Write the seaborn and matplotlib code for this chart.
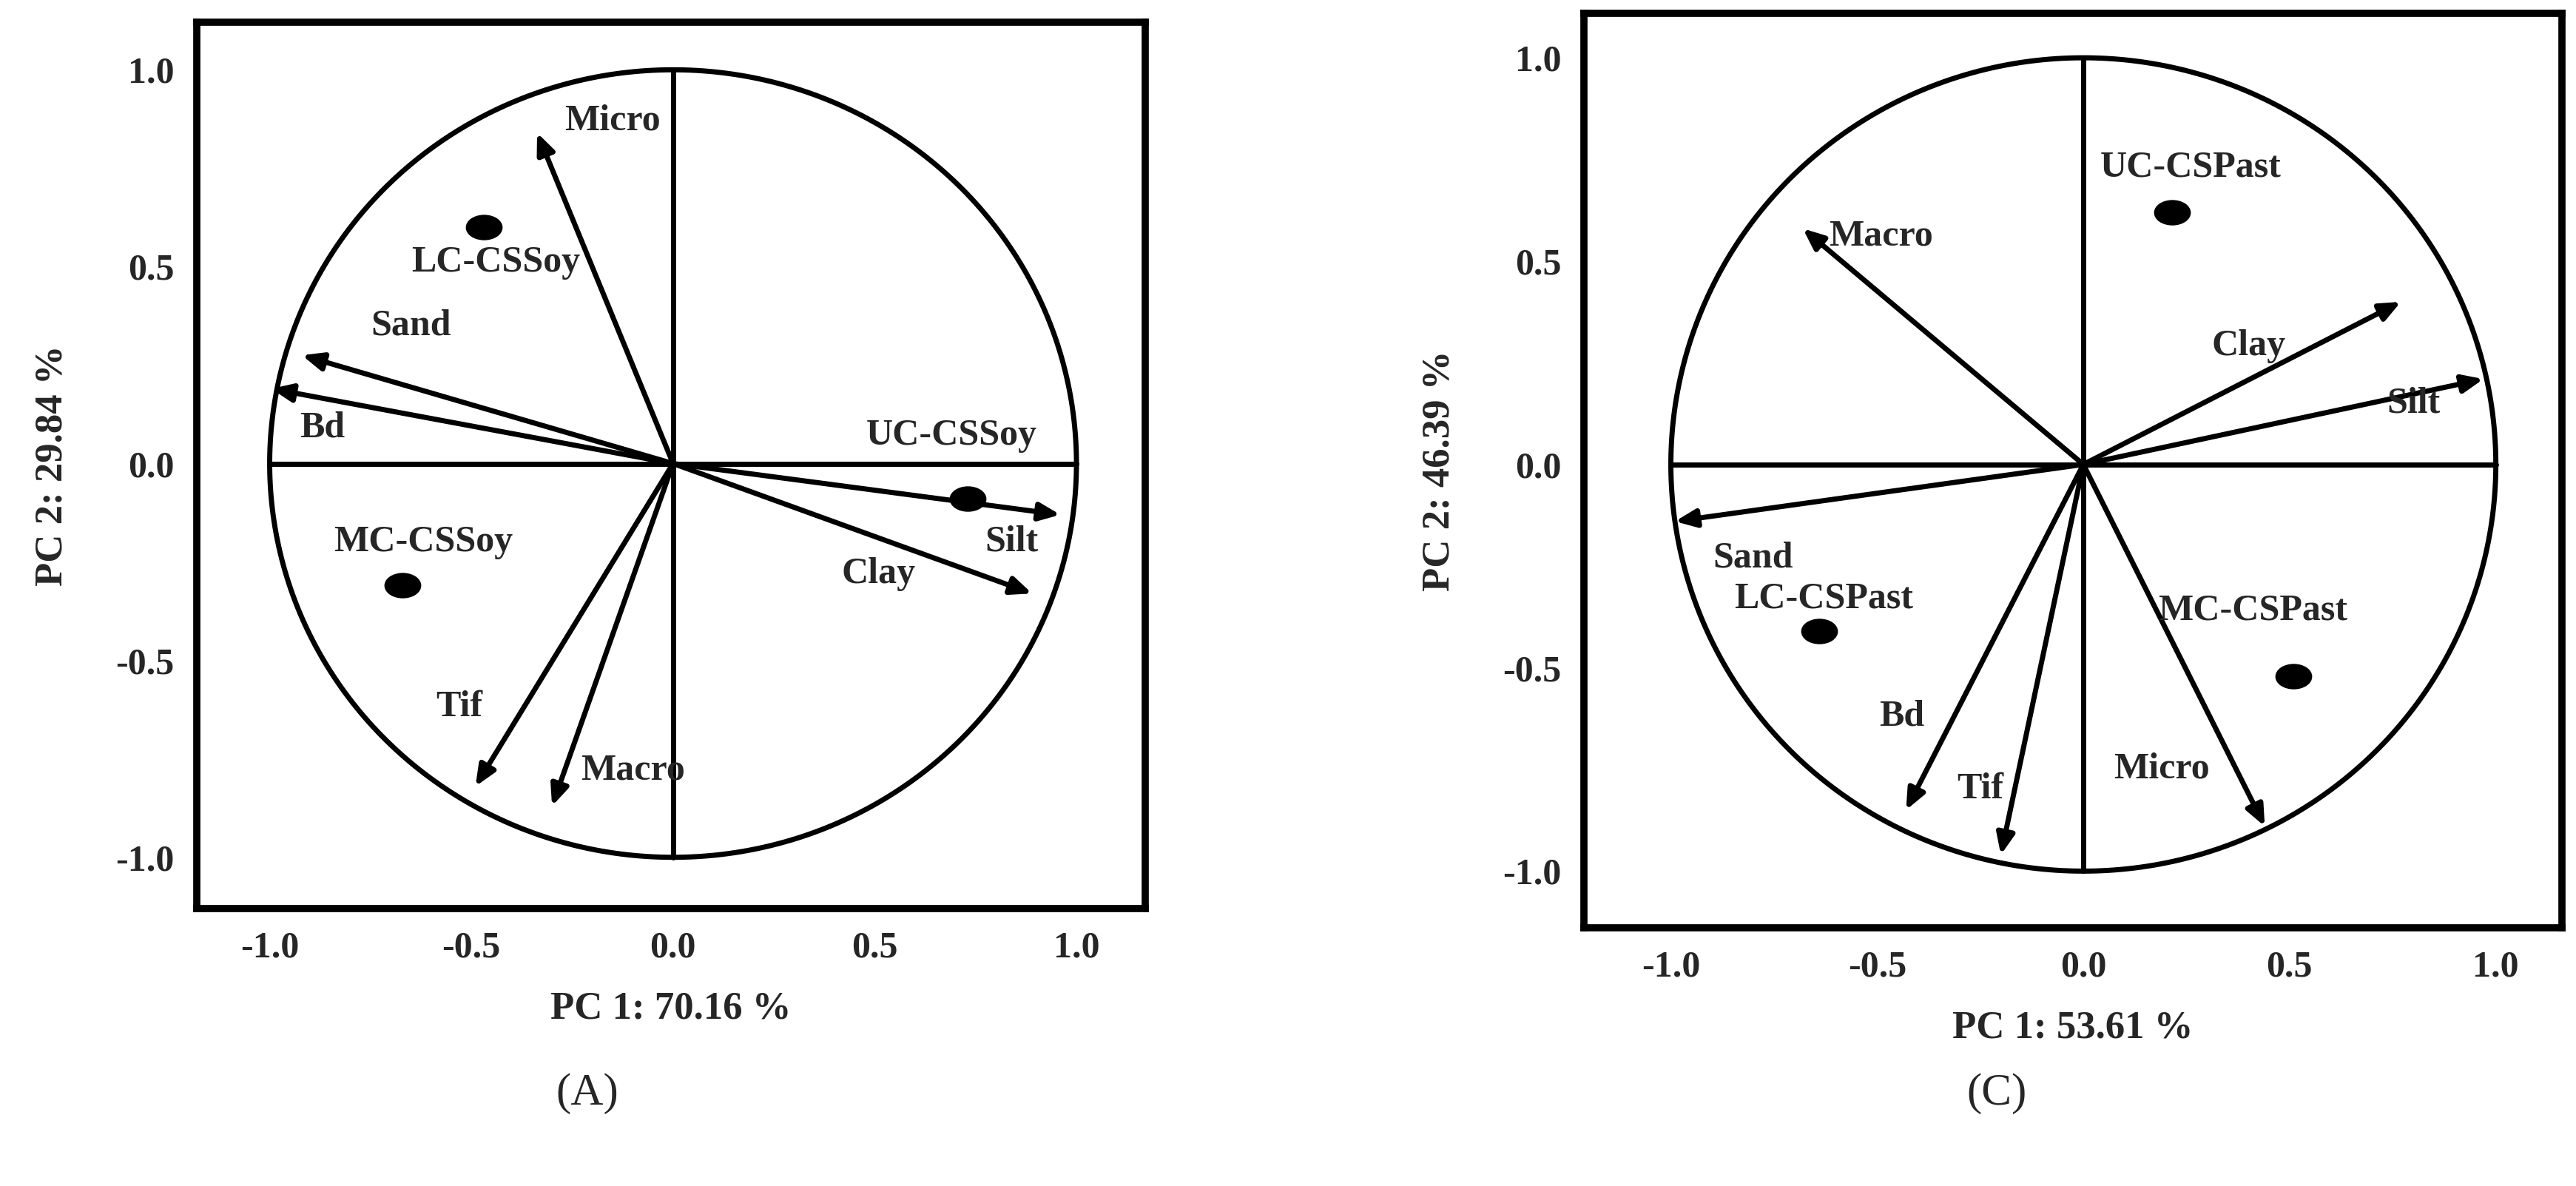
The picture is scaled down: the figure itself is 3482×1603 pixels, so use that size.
import numpy as np
import pandas as pd
import matplotlib
matplotlib.use("Agg")
import matplotlib.pyplot as plt
from matplotlib.path import Path
from matplotlib.transforms import Affine2D
import seaborn as sns

sns.set_theme(style="white")
plt.rcParams['font.family'] = ['Liberation Serif', 'DejaVu Serif']

# Panel A
a_vars = ["Micro", "Sand", "Bd", "Silt", "Clay", "Tif", "Macro"]
a_vx = [-0.337, -0.92, -0.996, 0.96, 0.89, -0.49, -0.30]
a_vy = [0.84, 0.275, 0.19, -0.13, -0.33, -0.82, -0.87]
a_lx = [-0.15, -0.65, -0.87, 0.84, 0.51, -0.53, -0.10]
a_ly = [0.87, 0.35, 0.09, -0.20, -0.28, -0.62, -0.78]
a_pts = ["LC-CSSoy", "UC-CSSoy", "MC-CSSoy"]
a_px = [-0.47, 0.73, -0.67]
a_py = [0.60, -0.09, -0.31]
a_plx = [-0.44, 0.69, -0.62]
a_ply = [0.51, 0.07, -0.20]

# Panel C
c_vars = ["Macro", "Clay", "Silt", "Sand", "Bd", "Tif", "Micro"]
c_vx = [-0.68, 0.77, 0.97, -0.99, -0.43, -0.20, 0.44]
c_vy = [0.58, 0.40, 0.21, -0.14, -0.85, -0.96, -0.89]
c_lx = [-0.49, 0.40, 0.80, -0.80, -0.44, -0.25, 0.19]
c_ly = [0.56, 0.29, 0.15, -0.23, -0.62, -0.80, -0.75]
c_pts = ["UC-CSPast", "LC-CSPast", "MC-CSPast"]
c_px = [0.215, -0.64, 0.51]
c_py = [0.62, -0.41, -0.52]
c_plx = [0.26, -0.63, 0.41]
c_ply = [0.73, -0.33, -0.36]

ticks = [-1.0, -0.5, 0.0, 0.5, 1.0]
tick_labels = ["-1.0", "-0.5", "0.0", "0.5", "1.0"]

ell = Path.unit_circle().transformed(Affine2D().scale(1.5, 1.0))

fig = plt.figure(figsize=(34.82, 16.03), dpi=100)
axA = fig.add_axes([0.0765, 0.234, 0.368, 0.747])
axC = fig.add_axes([0.615, 0.2175, 0.3795, 0.7715])

fs = 36
def panel(ax, vars_, vx, vy, lx, ly, pts, px, py, plx, ply, xlim, ylim, xl, yl):
    th = np.linspace(0, 2 * np.pi, 400)
    ax.plot(np.cos(th), np.sin(th), color="black", lw=5)
    ax.plot([-1, 1], [0, 0], color="black", lw=5)
    ax.plot([0, 0], [-1, 1], color="black", lw=5)
    for x, y in zip(vx, vy):
        ax.annotate("", xy=(x, y), xytext=(0, 0),
                    arrowprops=dict(arrowstyle="-|>,head_length=1.4,head_width=0.6",
                                    color="black", lw=5, shrinkA=0, shrinkB=0))
    for n, x, y in zip(vars_, lx, ly):
        ax.text(x, y, n, fontsize=fs, fontweight="bold", ha="center", va="center")
    df = pd.DataFrame({"x": px, "y": py, "n": pts})
    sns.scatterplot(data=df, x="x", y="y", ax=ax, marker=ell, s=1100,
                    color="black", edgecolor="black", legend=False, zorder=5)
    for n, x, y in zip(pts, plx, ply):
        ax.text(x, y, n, fontsize=fs, fontweight="bold", ha="center", va="center")
    ax.set_xlim(*xlim)
    ax.set_ylim(*ylim)
    ax.set_xticks(ticks)
    ax.set_xticklabels(tick_labels, fontsize=fs, fontweight="bold")
    ax.set_yticks(ticks)
    ax.set_yticklabels(tick_labels, fontsize=fs, fontweight="bold")
    ax.tick_params(length=0, pad=22)
    ax.set_xlabel(xl, fontsize=fs + 2, fontweight="bold", labelpad=25)
    ax.set_ylabel(yl, fontsize=fs + 2, fontweight="bold", labelpad=45)
    for s in ax.spines.values():
        s.set_linewidth(7)
        s.set_color("black")

panel(axA, a_vars, a_vx, a_vy, a_lx, a_ly, a_pts, a_px, a_py, a_plx, a_ply,
      (-1.18, 1.17), (-1.13, 1.12), "PC 1: 70.16 %", "PC 2: 29.84 %")
panel(axC, c_vars, c_vx, c_vy, c_lx, c_ly, c_pts, c_px, c_py, c_plx, c_ply,
      (-1.21, 1.16), (-1.14, 1.11), "PC 1: 53.61 %", "PC 2: 46.39 %")

fig.text(0.228, 0.078, "(A)", fontsize=44, ha="center", va="center")
fig.text(0.775, 0.078, "(C)", fontsize=44, ha="center", va="center")

fig.savefig("out.png", dpi=100, facecolor="white")
